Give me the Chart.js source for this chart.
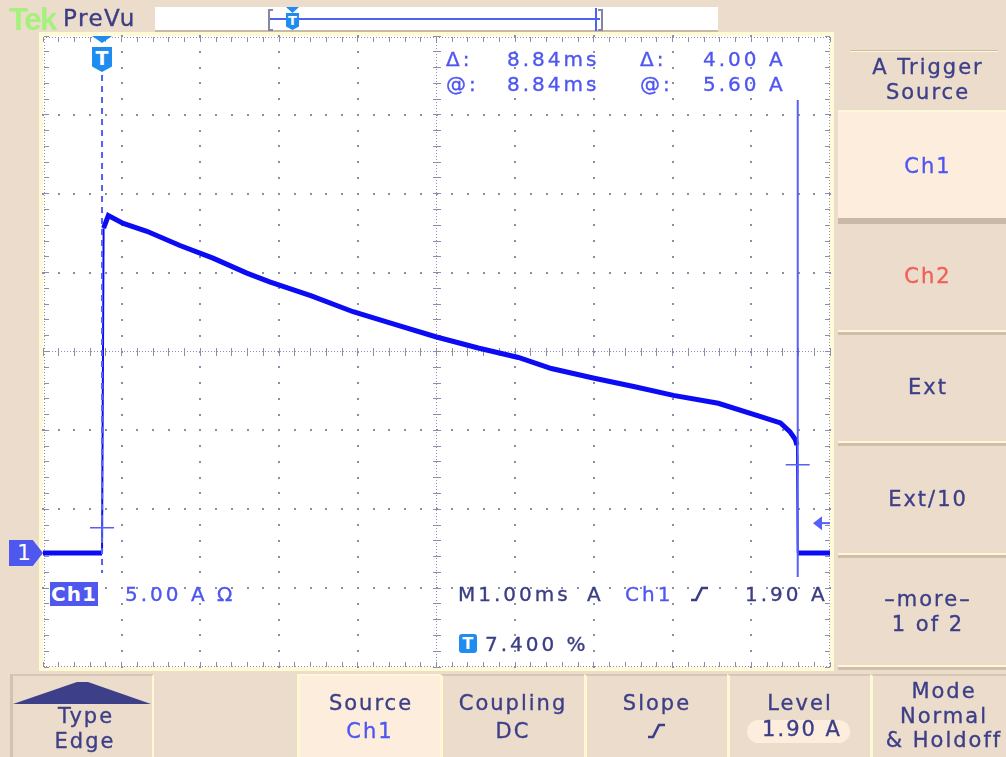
<!DOCTYPE html>
<html>
<head>
<meta charset="utf-8">
<title>Tek PreVu - A Trigger Source</title>
<script src="https://cdn.jsdelivr.net/npm/chart.js@4.4.1/dist/chart.umd.min.js"></script>
<style>
  body { margin: 0; width: 1006px; height: 757px; overflow: hidden; position: relative;
         background: #ECDCCB; font-family: 'DejaVu Sans', sans-serif; }
  .box { position: absolute; box-sizing: border-box; z-index: 1; }
  .t { position: absolute; font-size: 20px; line-height: 1; letter-spacing: 3px; white-space: pre; z-index: 5;
       -webkit-text-stroke: 0.35px currentColor; }
  .m { position: absolute; width: 200px; font-size: 21px; line-height: 1; letter-spacing: 2px; padding-left: 2px;
       white-space: pre; color: #3C3F88; text-align: center; z-index: 5; -webkit-text-stroke: 0.35px currentColor; }
  .blue { color: #4E56F2; }
  .navy { color: #3B3E84; }
  .btn { position: absolute; box-sizing: border-box; top: 674px; height: 83px; z-index: 1;
         border-left: 3px solid #FFF8D4; border-top: 2px solid #D8C6B2; }
  .rbtn { position: absolute; box-sizing: border-box; left: 838px; width: 168px; z-index: 1; }
  .sep { position: absolute; left: 838px; width: 168px; height: 5px; z-index: 1;
         background: linear-gradient(#FFF8D4 0, #FFF8D4 2px, #D0BEAB 2px); }
  #scope { position: absolute; left: 0; top: 0; z-index: 3; }
</style>
</head>
<body>

<!-- top bar -->
<div class="t" style="left:9px;top:2px;font:bold 31px 'Liberation Sans';letter-spacing:-1.5px;color:#A6F07C;-webkit-text-stroke:0;">Tek</div>
<div class="t" style="left:63px;top:7px;font-size:23px;letter-spacing:1.5px;color:#3C3D85;">PreVu</div>
<div class="box" style="left:155px;top:7px;width:563px;height:25px;background:#fff;border-bottom:2px solid #C9B9A8;"></div>
<div class="box" style="left:268px;top:9px;width:5px;height:22px;border:2px solid #8484A4;border-right:none;z-index:2;"></div>
<div class="box" style="left:270px;top:18px;width:330px;height:2px;background:#5060F0;z-index:2;"></div>
<div class="box" style="left:595px;top:8px;width:2px;height:23px;background:#5060F0;z-index:2;"></div>
<div class="box" style="left:598px;top:9px;width:5px;height:22px;border:2px solid #8484A4;border-left:none;z-index:2;"></div>
<div class="box" style="left:286px;top:7px;width:13px;height:6px;background:#1E8CF0;clip-path:polygon(0 0,100% 0,50% 100%);z-index:2;"></div>
<div class="t" style="left:286px;top:13px;width:13px;height:17px;background:#1E8CF0;color:#fff;font:bold 13px 'DejaVu Sans';letter-spacing:0;text-align:center;line-height:15px;-webkit-text-stroke:0;clip-path:polygon(0 0,100% 0,100% 80%,50% 100%,0 80%);">T</div>

<!-- graticule background -->
<div class="box" style="left:43px;top:36px;width:787px;height:631px;background:#fff;box-shadow:0 0 0 4px #FFFBD6;"></div>

<!-- right menu -->
<div class="box" style="left:850px;top:50px;width:148px;height:2px;background:linear-gradient(#CDBBA8 0,#CDBBA8 1px,#FFF8D4 1px);"></div>
<div class="m" style="left:826px;top:57px;">A Trigger</div>
<div class="m" style="left:826px;top:82px;">Source</div>
<div class="rbtn" style="top:110px;height:108px;background:#FDEDDD;border-top:2px solid #FFF9DC;"></div>
<div class="box" style="left:838px;top:218px;width:168px;height:6px;background:#CAB9A7;"></div>
<div class="m blue" style="left:826px;top:156px;">Ch1</div>
<div class="m" style="left:826px;top:266px;color:#F06058;">Ch2</div>
<div class="sep" style="top:330px;"></div>
<div class="m" style="left:826px;top:377px;">Ext</div>
<div class="sep" style="top:441px;"></div>
<div class="m" style="left:826px;top:489px;">Ext/10</div>
<div class="sep" style="top:553px;"></div>
<div class="m" style="left:826px;top:589px;">–more–</div>
<div class="m" style="left:826px;top:614px;">1 of 2</div>
<div class="sep" style="top:665px;"></div>

<!-- bottom menu -->
<div class="btn" style="left:10px;width:144px;border-left-color:#D4C2AE;border-right:2px solid #FFF8D4;"></div>
<svg class="box" style="left:0;top:674px;z-index:2;" width="160" height="40">
  <polygon points="13,30 77,8 88,8 151,30" fill="#3D4088"/>
</svg>
<div class="m" style="left:-16px;top:706px;">Type</div>
<div class="m" style="left:-17px;top:731px;">Edge</div>
<div class="btn" style="left:297px;width:143px;background:#FDEDDD;border-top-color:#FFF8D4;"></div>
<div class="m" style="left:269px;top:693px;">Source</div>
<div class="m blue" style="left:268px;top:721px;">Ch1</div>
<div class="btn" style="left:440px;width:144px;"></div>
<div class="m" style="left:411px;top:693px;">Coupling</div>
<div class="m" style="left:411px;top:721px;">DC</div>
<div class="btn" style="left:584px;width:143px;"></div>
<div class="m" style="left:555px;top:693px;">Slope</div>
<svg class="box" style="left:647px;top:723px;z-index:5;" width="19" height="16">
  <path d="M1 14 H6 L12 2 H18" stroke="#3C3F88" stroke-width="2.6" fill="none"/>
</svg>
<div class="btn" style="left:727px;width:143px;"></div>
<div class="m" style="left:698px;top:693px;">Level</div>
<div class="box" style="left:747px;top:720px;width:103px;height:23px;border-radius:12px;background:#FDEDDD;z-index:2;"></div>
<div class="m" style="left:700px;top:719px;">1.90 A</div>
<div class="btn" style="left:870px;width:136px;"></div>
<div class="m" style="left:842px;top:681px;">Mode</div>
<div class="m" style="left:842px;top:706px;">Normal</div>
<div class="m" style="left:842px;top:730px;">&amp; Holdoff</div>

<canvas id="scope" width="1006" height="757"></canvas>

<!-- on-screen readouts -->
<div class="t blue" style="left:446px;top:49px;">Δ:</div>
<div class="t blue" style="left:507px;top:49px;">8.84ms</div>
<div class="t blue" style="left:640px;top:49px;">Δ:</div>
<div class="t blue" style="left:703px;top:49px;">4.00 A</div>
<div class="t blue" style="left:446px;top:74px;">@:</div>
<div class="t blue" style="left:507px;top:74px;">8.84ms</div>
<div class="t blue" style="left:640px;top:74px;">@:</div>
<div class="t blue" style="left:703px;top:74px;">5.60 A</div>

<div class="t" style="left:50px;top:582px;width:48px;height:24px;background:#4F57EE;color:#fff;font-weight:bold;letter-spacing:1px;text-align:center;line-height:24px;-webkit-text-stroke:0;">Ch1</div>
<div class="t blue" style="left:125px;top:584px;">5.00 A Ω</div>
<div class="t navy" style="left:458px;top:584px;">M1.00ms</div>
<div class="t navy" style="left:587px;top:584px;">A</div>
<div class="t blue" style="left:625px;top:584px;">Ch1</div>
<svg class="box" style="left:690px;top:586px;z-index:5;" width="19" height="16">
  <path d="M1 14 H6 L12 2 H18" stroke="#3B3E84" stroke-width="2.6" fill="none"/>
</svg>
<div class="t navy" style="left:745px;top:584px;">1.90 A</div>
<div class="t" style="left:459px;top:634px;width:18px;height:19px;border-radius:3px;background:#1E8CF0;color:#fff;font:bold 16px 'DejaVu Sans';letter-spacing:0;text-align:center;line-height:19px;-webkit-text-stroke:0;">T</div>
<div class="t navy" style="left:485px;top:634px;">7.400 %</div>

<!-- channel 1 ground marker and trigger position marker -->
<div id="gnd" class="t" style="left:9px;top:540px;width:34px;height:26px;background:#4E58EE;color:#fff;font-size:22px;letter-spacing:0;line-height:26px;padding-left:8px;box-sizing:border-box;-webkit-text-stroke:0;clip-path:polygon(0 0,70% 0,100% 50%,70% 100%,0 100%);">1</div>
<div id="trigT" class="t" style="left:92px;top:47px;width:20px;height:25px;background:#1E8CF0;color:#fff;font:bold 19px 'DejaVu Sans';letter-spacing:0;text-align:center;line-height:22px;-webkit-text-stroke:0;clip-path:polygon(0 0,100% 0,100% 78%,50% 100%,0 78%);">T</div>

<script>
// Ch1 current trace (ms after trigger, amps)
const timeMs = [-0.75, 0.00, 0.02, 0.08, 0.27, 0.57, 0.99, 1.41, 1.84, 2.13, 2.66, 3.19, 3.72, 4.25,
                4.78, 5.29, 5.71, 6.24, 6.77, 7.26, 7.83, 8.34, 8.62, 8.74, 8.81, 8.83, 8.84, 9.25];
const currentA = [0.0, 0.0, 20.6, 21.4, 20.9, 20.4, 19.5, 18.7, 17.75, 17.2, 16.3, 15.3, 14.5, 13.7,
                  13.0, 12.4, 11.7, 11.1, 10.55, 10.0, 9.5, 8.7, 8.25, 7.7, 7.2, 6.85, 0.0, 0.0];

// scope settings
const msPerDiv = 1.0;
const ampsPerDiv = 5.0;
const xMinMs = -0.75, xMaxMs = 9.25;   // 10 divisions
const yMinA = -7.22, yMaxA = 32.78;    // 8 divisions
const triggerMs = 0;
const trigLevelA = 1.90;
const cursorTimesMs = [0, 8.84];
const cursorLevelsA = [1.60, 5.60];

const scopeOverlay = {
    id: 'scopeOverlay',
    beforeDatasetsDraw(chart) {
        const { ctx, chartArea: a, scales: { x, y } } = chart;
        const xs = [], ys = [];
        for (let i = 0; i <= 10; i++) xs.push(x.getPixelForValue(xMinMs + i * msPerDiv));
        for (let j = 0; j <= 8; j++) ys.push(y.getPixelForValue(yMinA + j * ampsPerDiv));
        const sx = (a.right - a.left) / 50, sy = (a.bottom - a.top) / 40;
        const dot = (px, py, w, h) => ctx.fillRect(Math.round(px - w / 2), Math.round(py - h / 2), w, h);
        ctx.save();
        ctx.fillStyle = '#8c8cac';
        // dotted division lines
        for (let i = 1; i < 10; i++) if (i !== 5)
            for (let k = 0; k <= 40; k++) dot(xs[i], a.top + k * sy, 2, 2);
        for (let j = 1; j < 8; j++) if (j !== 4)
            for (let k = 0; k <= 50; k++) dot(a.left + k * sx, ys[j], 2, 2);
        // centre cross with minor ticks
        for (let yy = a.top; yy <= a.bottom; yy += 3) dot(xs[5], yy, 1, 1);
        for (let xx = a.left; xx <= a.right; xx += 3) dot(xx, ys[4], 1, 1);
        for (let k = 0; k <= 40; k++) dot(xs[5], a.top + k * sy, 8, 1);
        for (let k = 0; k <= 50; k++) dot(a.left + k * sx, ys[4], 1, 8);
        // frame with inward ticks
        for (let yy = a.top; yy <= a.bottom; yy += 3) { dot(a.left + 1, yy, 1, 1); dot(a.right - 1, yy, 1, 1); }
        for (let xx = a.left; xx <= a.right; xx += 3) { dot(xx, a.top + 1, 1, 1); dot(xx, a.bottom - 1, 1, 1); }
        for (let k = 0; k <= 40; k++) {
            const yy = a.top + k * sy;
            dot(a.left + 3, yy, 5, 1); dot(a.right - 3, yy, 5, 1);
        }
        for (let k = 0; k <= 50; k++) {
            const xx = a.left + k * sx;
            dot(xx, a.top + 3, 1, 5); dot(xx, a.bottom - 3, 1, 5);
        }
        ctx.restore();
    },
    afterDatasetsDraw(chart) {
        const { ctx, chartArea: a, scales: { x, y } } = chart;
        const c1 = x.getPixelForValue(cursorTimesMs[0]);
        const c2 = x.getPixelForValue(cursorTimesMs[1]);
        ctx.save();
        ctx.strokeStyle = '#5660F6';
        ctx.lineWidth = 2;
        ctx.setLineDash([6, 5]);
        ctx.beginPath(); ctx.moveTo(c1, a.top + 39); ctx.lineTo(c1, a.bottom - 94); ctx.stroke();
        ctx.setLineDash([]);
        ctx.beginPath(); ctx.moveTo(c2, a.top + 64); ctx.lineTo(c2, a.bottom - 90); ctx.stroke();
        // cursor crosses
        ctx.lineWidth = 1.5;
        [[c1, cursorLevelsA[0]], [c2, cursorLevelsA[1]]].forEach(([cx, lv]) => {
            const cy = y.getPixelForValue(lv);
            ctx.beginPath();
            ctx.moveTo(cx - 12, cy); ctx.lineTo(cx + 12, cy);
            ctx.moveTo(cx, cy - 10); ctx.lineTo(cx, cy + 10);
            ctx.stroke();
        });
        // trigger level arrow on the right edge
        const ty = y.getPixelForValue(trigLevelA);
        ctx.fillStyle = '#5660F6';
        ctx.beginPath();
        ctx.moveTo(a.right - 17, ty); ctx.lineTo(a.right - 8, ty - 7); ctx.lineTo(a.right - 8, ty + 7);
        ctx.closePath(); ctx.fill();
        ctx.fillRect(a.right - 9, ty - 1, 9, 2);
        // trigger position pointer on the top edge
        const tx = x.getPixelForValue(triggerMs);
        ctx.fillStyle = '#1E8CF0';
        ctx.beginPath();
        ctx.moveTo(tx - 10, a.top); ctx.lineTo(tx + 10, a.top); ctx.lineTo(tx, a.top + 7);
        ctx.closePath(); ctx.fill();
        ctx.restore();
    }
};

const chart = new Chart(document.getElementById('scope'), {
    type: 'line',
    data: {
        datasets: [{
            label: 'Ch1',
            data: timeMs.map((t, i) => ({ x: t, y: currentA[i] })),
            borderColor: '#0C0CF4',
            borderWidth: 5,
            pointRadius: 0,
            tension: 0,
            segment: {
                borderWidth: c => Math.abs(c.p1.y - c.p0.y) > 4 * Math.abs(c.p1.x - c.p0.x) ? 2 : 5
            }
        }]
    },
    options: {
        responsive: false,
        animation: false,
        layout: { padding: { left: 43, top: 36, right: 176, bottom: 90 } },
        plugins: { legend: { display: false }, tooltip: { enabled: false } },
        scales: {
            x: { type: 'linear', min: xMinMs, max: xMaxMs, display: false },
            y: { type: 'linear', min: yMinA, max: yMaxA, display: false }
        }
    },
    plugins: [scopeOverlay]
});

// keep the HTML markers tied to the scales
document.getElementById('gnd').style.top = (chart.scales.y.getPixelForValue(0) - 13) + 'px';
document.getElementById('trigT').style.left = (chart.scales.x.getPixelForValue(triggerMs) - 10) + 'px';
</script>
</body>
</html>
